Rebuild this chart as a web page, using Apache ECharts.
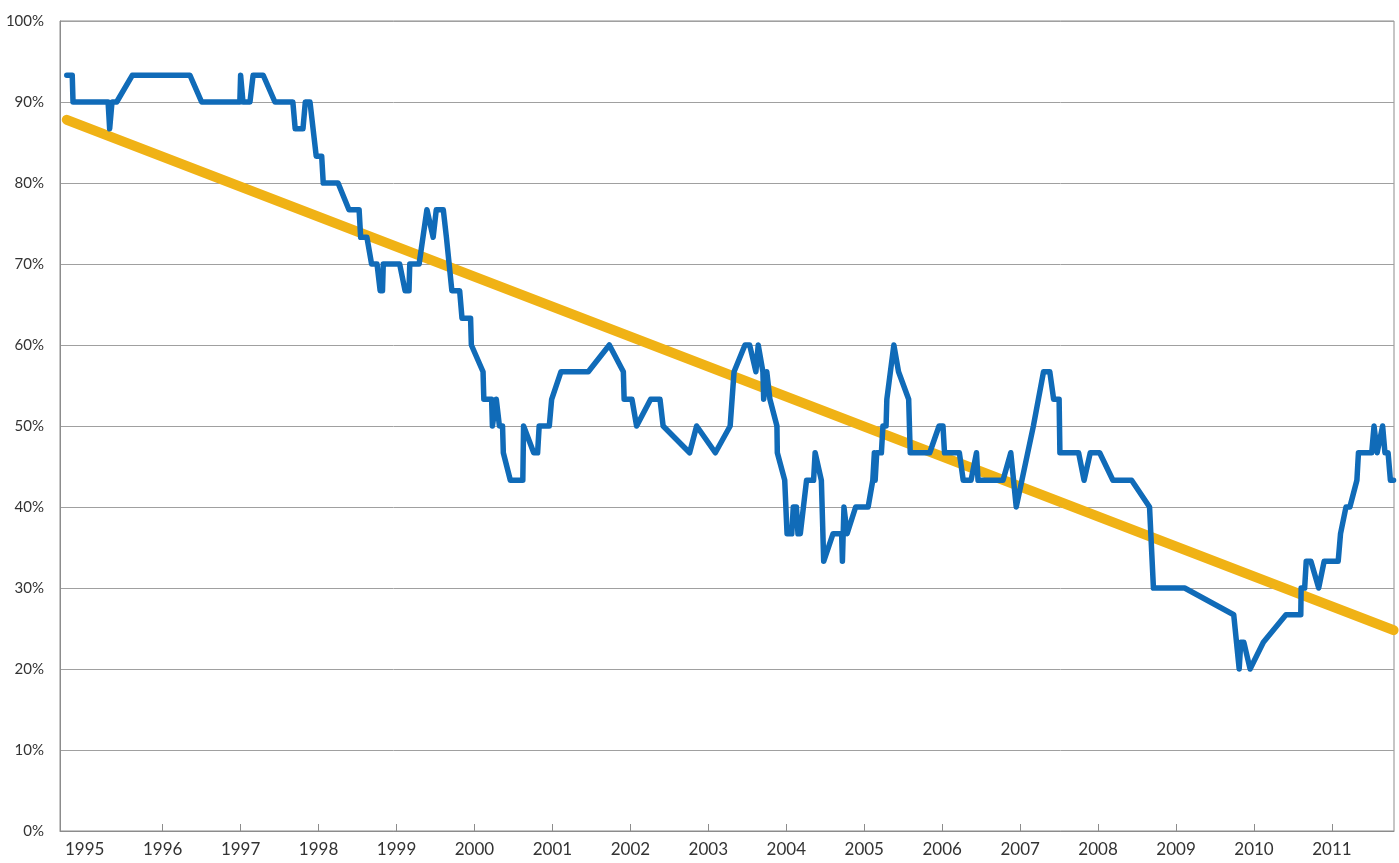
<!DOCTYPE html>
<html>
<head>
<meta charset="utf-8">
<script src="https://cdn.jsdelivr.net/npm/echarts@6/dist/echarts.min.js"></script>
<style>
  html, body { margin: 0; padding: 0; background: #fff; }
  #chart_box { width: 1399px; height: 863px; }
</style>
</head>
<body>
<div id="chart_box"></div>
<script>
// time (decimal years) of each point of the blue step line
var years = [
  1994.77, 1994.84, 1994.85, 1995.30, 1995.32, 1995.35, 1995.41, 1995.61, 1996.35, 1996.50,
  1996.99, 1997.00, 1997.03, 1997.12, 1997.16, 1997.29, 1997.44, 1997.67, 1997.70, 1997.80,
  1997.83, 1997.89, 1997.97, 1998.04, 1998.06, 1998.25, 1998.39, 1998.52, 1998.54, 1998.62,
  1998.68, 1998.75, 1998.79, 1998.82, 1998.83, 1999.04, 1999.11, 1999.16, 1999.17, 1999.29,
  1999.39, 1999.47, 1999.51, 1999.60, 1999.64, 1999.71, 1999.81, 1999.84, 1999.95, 1999.96,
  1999.98, 2000.11, 2000.12, 2000.22, 2000.23, 2000.28, 2000.32, 2000.36, 2000.37, 2000.46,
  2000.62, 2000.63, 2000.76, 2000.81, 2000.83, 2000.96, 2000.99, 2001.11, 2001.46, 2001.73,
  2001.91, 2001.92, 2002.02, 2002.08, 2002.26, 2002.38, 2002.42, 2002.76, 2002.85, 2003.09,
  2003.28, 2003.33, 2003.47, 2003.53, 2003.61, 2003.64, 2003.70, 2003.71, 2003.75, 2003.79,
  2003.88, 2003.885, 2003.98, 2004.01, 2004.07, 2004.09, 2004.13, 2004.15, 2004.18, 2004.26,
  2004.35, 2004.37, 2004.45, 2004.48, 2004.60, 2004.71, 2004.72, 2004.74, 2004.78, 2004.89,
  2005.05, 2005.11, 2005.13, 2005.14, 2005.16, 2005.22, 2005.24, 2005.28, 2005.29, 2005.38,
  2005.44, 2005.57, 2005.59, 2005.84, 2005.96, 2006.01, 2006.03, 2006.22, 2006.27, 2006.37,
  2006.44, 2006.46, 2006.78, 2006.88, 2006.95, 2007.17, 2007.30, 2007.38, 2007.43, 2007.50,
  2007.51, 2007.75, 2007.82, 2007.90, 2008.02, 2008.19, 2008.43, 2008.66, 2008.71, 2009.11,
  2009.74, 2009.81, 2009.83, 2009.87, 2009.95, 2010.12, 2010.41, 2010.60, 2010.605, 2010.65,
  2010.67, 2010.73, 2010.83, 2010.90, 2011.08, 2011.11, 2011.18, 2011.23, 2011.32, 2011.34,
  2011.51, 2011.54, 2011.58, 2011.65, 2011.68, 2011.72, 2011.75, 2011.79
];
// share in percent at each of those times
var shares = [
  93.3, 93.3, 90.0, 90.0, 86.7, 90.0, 90.0, 93.3, 93.3, 90.0,
  90.0, 93.3, 90.0, 90.0, 93.3, 93.3, 90.0, 90.0, 86.7, 86.7,
  90.0, 90.0, 83.3, 83.3, 80.0, 80.0, 76.7, 76.7, 73.3, 73.3,
  70.0, 70.0, 66.7, 66.7, 70.0, 70.0, 66.7, 66.7, 70.0, 70.0,
  76.7, 73.3, 76.7, 76.7, 73.3, 66.7, 66.7, 63.3, 63.3, 60.0,
  60.0, 56.7, 53.3, 53.3, 50.0, 53.3, 50.0, 50.0, 46.7, 43.3,
  43.3, 50.0, 46.7, 46.7, 50.0, 50.0, 53.3, 56.7, 56.7, 60.0,
  56.7, 53.3, 53.3, 50.0, 53.3, 53.3, 50.0, 46.7, 50.0, 46.7,
  50.0, 56.7, 60.0, 60.0, 56.7, 60.0, 56.7, 53.3, 56.7, 53.3,
  50.0, 46.7, 43.3, 36.7, 36.7, 40.0, 40.0, 36.7, 36.7, 43.3,
  43.3, 46.7, 43.3, 33.3, 36.7, 36.7, 33.3, 40.0, 36.7, 40.0,
  40.0, 43.3, 46.7, 43.3, 46.7, 46.7, 50.0, 50.0, 53.3, 60.0,
  56.7, 53.3, 46.7, 46.7, 50.0, 50.0, 46.7, 46.7, 43.3, 43.3,
  46.7, 43.3, 43.3, 46.7, 40.0, 50.0, 56.7, 56.7, 53.3, 53.3,
  46.7, 46.7, 43.3, 46.7, 46.7, 43.3, 43.3, 40.0, 30.0, 30.0,
  26.7, 20.0, 23.3, 23.3, 20.0, 23.3, 26.7, 26.7, 30.0, 30.0,
  33.3, 33.3, 30.0, 33.3, 33.3, 36.7, 40.0, 40.0, 43.3, 46.7,
  46.7, 50.0, 46.7, 50.0, 46.7, 46.7, 43.3, 43.3
];
// linear trend: start and end
var trendYears = [1994.77, 2011.79];
var trendShares = [87.8, 24.8];

var labelYears = [1995, 1996, 1997, 1998, 1999, 2000, 2001, 2002, 2003,
                  2004, 2005, 2006, 2007, 2008, 2009, 2010, 2011];
var tickYears = labelYears.slice(1);

var lineData = years.map(function (y, i) { return [y, shares[i]]; });
var trendData = trendYears.map(function (y, i) { return [y, trendShares[i]]; });

var mychart = echarts.init(document.getElementById("chart_box"));

var option = {
  animation: false,
  grid: {
    left: 60,
    right: 5,
    top: 21,
    bottom: 32,
    show: true,
    borderColor: "#8c8c8c",
    borderWidth: 1
  },
  xAxis: {
    type: "value",
    min: 1994.683,
    max: 2011.796,
    axisLine: { show: true, lineStyle: { color: "#8c8c8c", width: 1 } },
    axisTick: {
      show: true,
      inside: true,
      length: 7,
      customValues: tickYears,
      lineStyle: { color: "#8c8c8c" }
    },
    axisLabel: {
      customValues: labelYears,
      color: "#333",
      fontSize: 17,
      fontFamily: "Lato",
      margin: 10,
      formatter: function (v) { return String(Math.round(v)); }
    },
    splitLine: { show: false }
  },
  yAxis: {
    type: "value",
    min: 0,
    max: 100,
    interval: 10,
    axisLine: { show: true, lineStyle: { color: "#8c8c8c", width: 1 } },
    axisTick: { show: false },
    axisLabel: {
      color: "#333",
      fontSize: 15,
      fontFamily: "Lato",
      margin: 16,
      formatter: "{value}%"
    },
    splitLine: { show: true, lineStyle: { color: "#a0a0a0", width: 1 } }
  },
  series: [
    {
      name: "trend",
      type: "line",
      data: trendData,
      symbol: "none",
      z: 2,
      lineStyle: { color: "#F0B215", width: 10, cap: "round" }
    },
    {
      name: "share",
      type: "line",
      data: lineData,
      symbol: "none",
      z: 3,
      lineStyle: { color: "#106BB8", width: 5.5, cap: "round", join: "round" }
    }
  ]
};

mychart.setOption(option);
</script>
</body>
</html>
